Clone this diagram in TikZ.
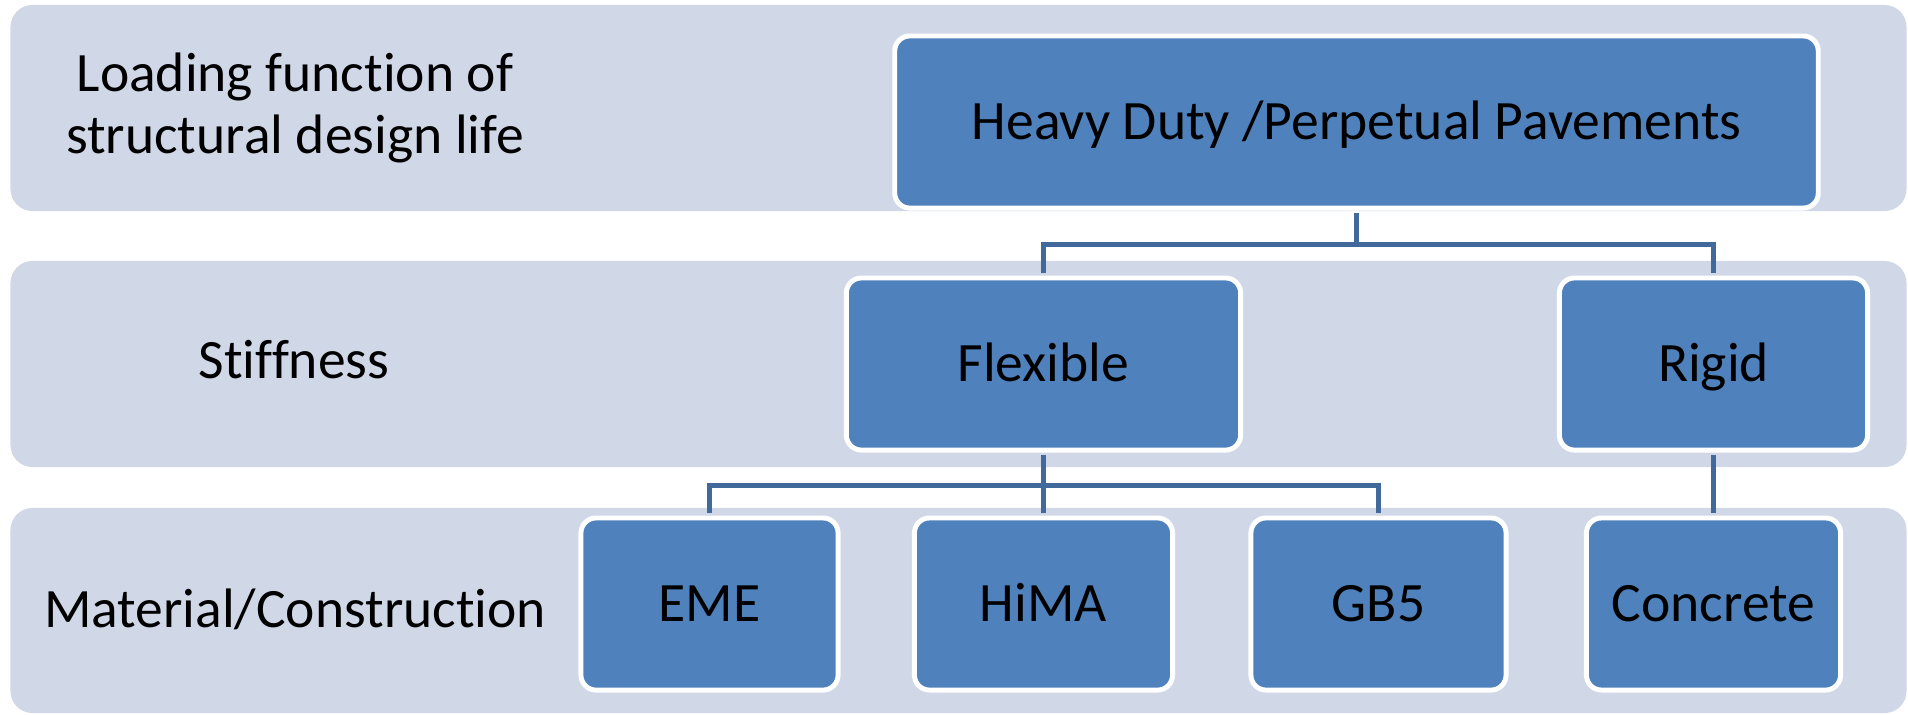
\documentclass[tikz,border=0pt]{standalone}
\usepackage{fontspec}
\setmainfont{Carlito}[Ligatures=NoCommon]
\usetikzlibrary{calc}
\definecolor{bandfill}{HTML}{D0D8E8}
\definecolor{boxfill}{HTML}{4F81BD}
\definecolor{linkcol}{HTML}{41699B}
\begin{document}
\begin{tikzpicture}[x=0.01cm,y=-0.01cm,
  band/.style={fill=bandfill, rounded corners=0.22cm, inner sep=0pt, minimum width=18.95cm},
  box/.style={draw=white, line width=1.4pt, fill=boxfill, rounded corners=0.15cm,
    inner sep=0pt, minimum height=1.72cm, text height=10.1pt, text depth=0pt,
    font=\fontsize{15.8pt}{17.2pt}\selectfont},
  lbl/.style={inner sep=0pt, align=center, font=\fontsize{15.8pt}{17.2pt}\selectfont},
  link/.style={draw=linkcol, line width=1.4pt, shorten <=0.7pt, shorten >=0.7pt}]
\useasboundingbox (0,0) rectangle (1908,714);
% bands
\node[band, minimum height=2.06cm] (band1) at (958.5,108) {};
\node[band, minimum height=2.06cm] (band2) at (958.5,364) {};
\node[band, minimum height=2.05cm] (band3) at (958.5,610.5) {};
% level labels
\node[lbl, font=\fontsize{15.8pt}{17.7pt}\selectfont] (lab1) at (295,108) {Loading function of\\structural design life};
\node[lbl, text height=10.1pt, text depth=0pt] (lab2) at (294,361) {Stiffness};
\node[lbl, text height=10.1pt, text depth=0pt] (lab3) at (295,609.5) {Material/Construction};
% boxes
\node[box, minimum width=9.23cm] (heavy) at (1356.5,122) {Heavy Duty /Perpetual Pavements};
\node[box, minimum width=3.94cm] (flex) at (1043.5,364) {Flexible};
\node[box, minimum width=3.08cm] (rigid) at (1713.5,364) {Rigid};
\node[box, minimum width=2.57cm] (eme) at (709.5,604) {EME};
\node[box, minimum width=2.58cm] (hima) at (1043.5,604) {HiMA};
\node[box, minimum width=2.55cm] (gb5) at (1378.5,604) {GB5};
\node[box, minimum width=2.54cm] (conc) at (1713.5,604) {Concrete};
% connectors
\draw[link] (heavy.south) -- ++(0,34) coordinate (j1) -| (flex.north);
\draw[link] (j1) -| (rigid.north);
\draw[link] (flex.south) -- (hima.north);
\draw[link] (flex.south) -- ++(0,33) coordinate (j2) -| (eme.north);
\draw[link] (j2) -| (gb5.north);
\draw[link] (rigid.south) -- (conc.north);
\end{tikzpicture}
\end{document}
